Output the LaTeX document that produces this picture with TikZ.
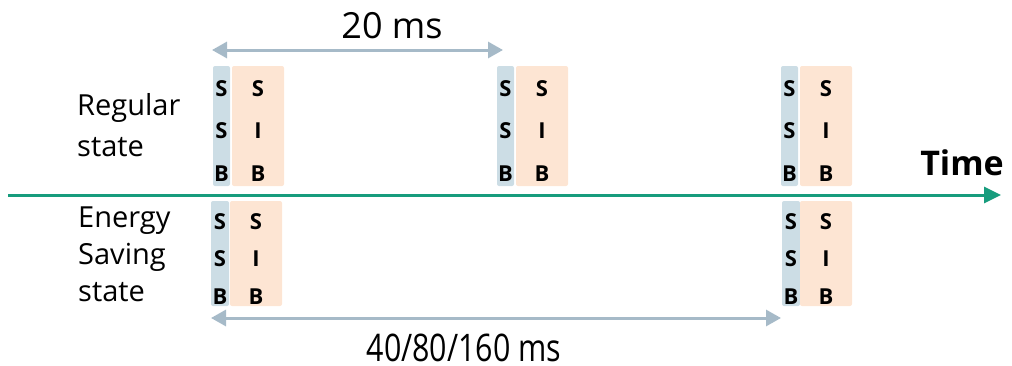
\documentclass[tikz,border=0pt]{standalone}
\usepackage{fontspec}
\setmainfont{Open Sans}
\usetikzlibrary{arrows.meta}
\definecolor{ssbblue}{HTML}{CCDDE5}
\definecolor{sibor}{HTML}{FDE5D3}
\definecolor{dimgray}{HTML}{A6BAC8}
\definecolor{timegreen}{HTML}{179C7D}
\tikzset{
  ssbbox/.style={fill=ssbblue, rounded corners=2pt, draw=none},
  sibbox/.style={fill=sibor, rounded corners=2pt, draw=none},
  let/.style={font=\fontsize{22}{24}\selectfont\bfseries, inner sep=0pt},
  lab/.style={font=\fontsize{29}{32}\selectfont, inner sep=0pt, anchor=base west},
  dim/.style={draw=dimgray, line width=3pt, {Triangle[width=16pt,length=15pt]}-{Triangle[width=16pt,length=15pt]}},
  dimlab/.style={inner sep=0pt, text depth=0pt, anchor=base}
}
\begin{document}
\begin{tikzpicture}[x=1pt,y=-1pt]
\useasboundingbox (0,0) rectangle (1012,365);
% timeline
\coordinate (t0) at (8,195);
\coordinate (t1) at (1001,195);
\draw[timegreen, line width=3pt, -{Triangle[width=16pt,length=17pt]}] (t0) -- (t1);
\node[font=\fontsize{34}{38}\selectfont\bfseries, inner sep=0pt, anchor=base east] (time) at (1004,175) {Time};
% labels
\node[lab] (reg1) at (77,115) {Regular};
\node[lab] (reg2) at (77,156) {state};
\node[lab] (es1) at (78,227) {Energy};
\node[lab] (es2) at (78,264) {Saving};
\node[lab] (es3) at (78,301) {state};
% regular blocks
\foreach \bx/\ox/\n in {213/232/a, 497/516/b, 781/800/c}{
  \path[ssbbox] (\bx,66) rectangle (\bx+17,186);
  \path[sibbox] (\ox,66) rectangle (\ox+52,186);
  \node[let] (\n s1) at (\bx+8.5,89) {S};
  \node[let] (\n s2) at (\bx+8.5,131) {S};
  \node[let] (\n s3) at (\bx+8.5,174) {B};
  \node[let] (\n o1) at (\ox+26,89) {S};
  \node[let] (\n o2) at (\ox+26,131) {I};
  \node[let] (\n o3) at (\ox+26,174) {B};
}
% energy saving blocks
\foreach \bx/\ox/\n in {211/230/d, 782/800/e}{
  \path[ssbbox] (\bx,201) rectangle (\bx+18,306);
  \path[sibbox] (\ox,201) rectangle (\ox+52,306);
  \node[let] (\n s1) at (\bx+9,222) {S};
  \node[let] (\n s2) at (\bx+9,259) {S};
  \node[let] (\n s3) at (\bx+9,297) {B};
  \node[let] (\n o1) at (\ox+26,222) {S};
  \node[let] (\n o2) at (\ox+26,259) {I};
  \node[let] (\n o3) at (\ox+26,297) {B};
}
% dimension arrows
\coordinate (d1a) at (212,50);
\coordinate (d1b) at (503,50);
\draw[dim] (d1a) -- (d1b);
\node[dimlab, font=\fontsize{36}{40}\selectfont] (l20) at (392,38) {20 ms};
\coordinate (d2a) at (211,318);
\coordinate (d2b) at (781,318);
\draw[dim] (d2a) -- (d2b);
\node[dimlab, font=\fontsize{38}{42}\selectfont] (l40) at (464,361) {\scalebox{0.8}[1]{40/80/160 ms}};
\end{tikzpicture}
\end{document}
